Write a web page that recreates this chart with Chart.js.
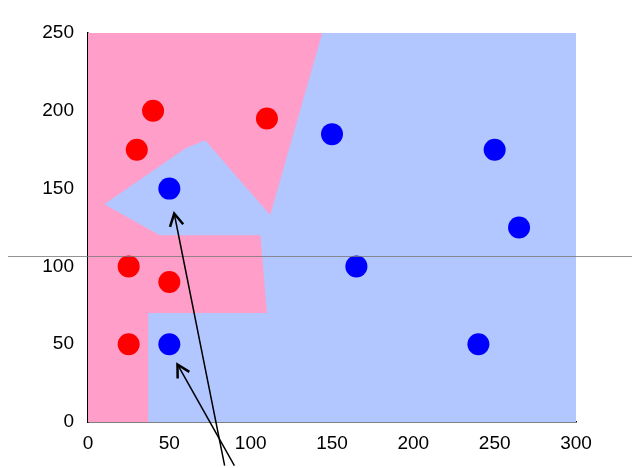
<!DOCTYPE html>
<html>
<head>
<script src="https://cdn.jsdelivr.net/npm/chart.js@4"></script>
<style>html,body{margin:0;background:#fff}#c{display:block}</style>
</head>
<body>
<div style="width:640px;height:468px"><canvas id="c"></canvas></div>
<script>
// class A (red) and class B (blue) samples
const redX = [40, 30, 110, 25, 50, 25];
const redY = [200, 175, 195, 100, 90, 50];
const blueX = [50, 150, 250, 265, 165, 50, 240];
const blueY = [150, 185, 175, 125, 100, 50, 50];
// decision region for class A (pink)
const pinkX = [0, 37, 37, 110, 106, 44, 10, 60, 72, 112, 144, 0];
const pinkY = [0, 0, 70, 70, 120, 120, 140, 176, 181, 133, 250, 250];
// arrows: from label point to sample
const arrowFromX = [84, 90];
const arrowFromY = [-28, -28];
const arrowToX = [53, 55];
const arrowToY = [134, 37];
const xTicks = [0, 50, 100, 150, 200, 250, 300];
const yTicks = [0, 50, 100, 150, 200, 250];
const lineY = 107;

const regions = {
  id: 'regions',
  beforeDatasetsDraw(chart) {
    const { ctx, chartArea: a, scales: { x, y } } = chart;
    ctx.save();
    ctx.fillStyle = 'rgb(178,198,255)';
    ctx.fillRect(a.left, a.top, a.right - a.left, a.bottom - a.top);
    ctx.fillStyle = 'rgb(255,158,200)';
    ctx.beginPath();
    pinkX.forEach((v, i) => {
      const px = x.getPixelForValue(v), py = y.getPixelForValue(pinkY[i]);
      i ? ctx.lineTo(px, py) : ctx.moveTo(px, py);
    });
    ctx.closePath();
    ctx.fill();
    ctx.restore();
  },
  afterDraw(chart) {
    const { ctx, scales: { x, y } } = chart;
    ctx.save();
    // thin horizontal line across the picture
    ctx.strokeStyle = 'rgba(120,120,120,0.8)';
    ctx.lineWidth = 1;
    const ly = Math.round(y.getPixelForValue(lineY)) + 0.5;
    ctx.beginPath(); ctx.moveTo(8, ly); ctx.lineTo(632, ly); ctx.stroke();
    // arrows
    ctx.strokeStyle = '#000';
    ctx.lineWidth = 1.5;
    arrowFromX.forEach((v, i) => {
      const x0 = x.getPixelForValue(v), y0 = y.getPixelForValue(arrowFromY[i]);
      const x1 = x.getPixelForValue(arrowToX[i]), y1 = y.getPixelForValue(arrowToY[i]);
      const ang = Math.atan2(y1 - y0, x1 - x0);
      ctx.beginPath(); ctx.moveTo(x0, y0); ctx.lineTo(x1, y1); ctx.stroke();
      ctx.lineWidth = 2.5;
      ctx.beginPath();
      ctx.moveTo(x1 - 14 * Math.cos(ang - 0.5), y1 - 14 * Math.sin(ang - 0.5));
      ctx.lineTo(x1, y1);
      ctx.lineTo(x1 - 14 * Math.cos(ang + 0.5), y1 - 14 * Math.sin(ang + 0.5));
      ctx.stroke();
      ctx.lineWidth = 1.5;
    });
    ctx.restore();
  }
};

new Chart(document.getElementById('c'), {
  type: 'scatter',
  data: {
    datasets: [
      { data: redX.map((v, i) => ({ x: v, y: redY[i] })), backgroundColor: '#ff0000', borderWidth: 0, pointRadius: 11 },
      { data: blueX.map((v, i) => ({ x: v, y: blueY[i] })), backgroundColor: '#0000ff', borderWidth: 0, pointRadius: 11 }
    ]
  },
  options: {
    responsive: true, maintainAspectRatio: false, animation: false,
    layout: { padding: { top: 33, right: 64, left: 0, bottom: 0 } },
    plugins: { legend: { display: false }, tooltip: { enabled: false } },
    scales: {
      x: {
        min: 0, max: 300,
        afterBuildTicks: s => { s.ticks = xTicks.map(v => ({ value: v })); },
        afterFit: s => { s.height = 46; },
        grid: { display: false, drawTicks: true },
        border: { color: '#000', width: 1.5 },
        ticks: { color: '#000', font: { family: 'Liberation Sans', size: 19 }, maxRotation: 0, padding: 2 }
      },
      y: {
        min: 0, max: 250,
        afterBuildTicks: s => { s.ticks = yTicks.map(v => ({ value: v })); },
        afterFit: s => { s.width = 88; },
        grid: { display: false },
        border: { color: '#000', width: 1.5 },
        ticks: { color: '#000', font: { family: 'Liberation Sans', size: 19 }, padding: 6 }
      }
    }
  },
  plugins: [regions]
});
</script>
</body>
</html>
